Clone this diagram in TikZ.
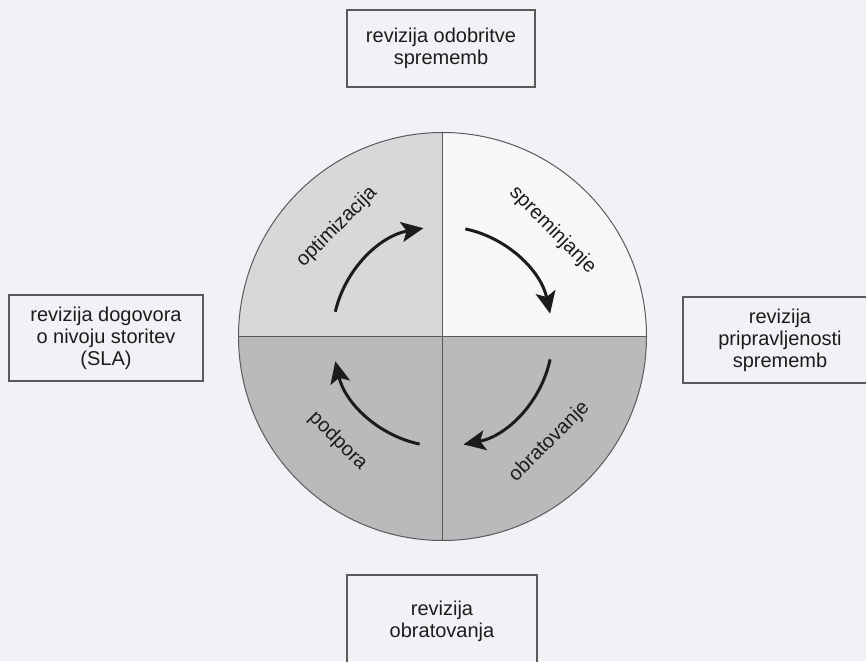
\documentclass[tikz,border=0pt]{standalone}
\usepackage{fontspec}
\setmainfont{Liberation Sans}
\usetikzlibrary{arrows.meta,calc}
\definecolor{paper}{HTML}{F2F2F6}
\definecolor{quadTL}{HTML}{D8D8DB}
\definecolor{quadTR}{HTML}{F7F7F9}
\definecolor{quadB}{HTML}{BABABD}
\definecolor{frame}{HTML}{5A5A5A}
\definecolor{ink}{HTML}{1C1C1C}
\tikzset{
  reviewbox/.style={draw=frame, line width=1.4pt, align=center, inner sep=0pt,
    font=\fontsize{20}{22}\selectfont, text=ink},
  cyclearrow/.style={draw=ink, line width=3pt,
    -{Stealth[length=22pt, width=20pt, inset=5pt]}},
  phase/.style={font=\fontsize{20}{22}\selectfont, text=ink, inner sep=0pt},
}
\begin{document}
\begin{tikzpicture}[x=1pt, y=1pt]
  \useasboundingbox (0,0) rectangle (866,661);
  \fill[paper] (0,0) rectangle (866,661);

  % service-review boxes around the cycle
  \node[reviewbox, minimum width=188pt, minimum height=77pt] (top) at (441,612.5)
    {revizija odobritve\\sprememb};
  \node[reviewbox, minimum width=194pt, minimum height=86pt] (left) at (106,323)
    {revizija dogovora\\o nivoju storitev\\(SLA)};
  \node[reviewbox, minimum width=194pt, minimum height=86pt] (right) at (780,321)
    {revizija\\pripravljenosti\\sprememb};
  \node[reviewbox, minimum width=190pt, minimum height=92pt] (bottom) at (442,40)
    {revizija\\obratovanja};

  % the four-phase wheel
  \coordinate (C) at (442.5,324.5);
  \def\R{204}
  \fill[quadTL] (C) -- ++(180:\R) arc[start angle=180, end angle=90, radius=\R] -- cycle;
  \fill[quadTR] (C) -- ++(90:\R) arc[start angle=90, end angle=0, radius=\R] -- cycle;
  \fill[quadB] (C) -- ++(0:\R) arc[start angle=0, end angle=-180, radius=\R] -- cycle;
  \node[draw=frame, line width=1pt, circle, minimum size=408pt, inner sep=0pt] (wheel) at (C) {};
  \draw[frame, line width=0.9pt] (wheel.west) -- (wheel.east);
  \draw[frame, line width=0.9pt] (wheel.north) -- (wheel.south);

  % cycle arrows
  \draw[cyclearrow] (C) ++(167:110) arc[start angle=167, end angle=100, radius=110];
  \draw[cyclearrow] (C) ++(78:110) arc[start angle=78, end angle=12, radius=110];
  \draw[cyclearrow] (C) ++(-12:110) arc[start angle=-12, end angle=-79, radius=110];
  \draw[cyclearrow] (C) ++(258:110) arc[start angle=258, end angle=193, radius=110];

  % phase labels
  \node[phase, rotate=45]  (opt) at ($(C)+(134:152)$) {optimizacija};
  \node[phase, rotate=-45] (spr) at ($(C)+(44:153)$) {spreminjanje};
  \node[phase, rotate=45]  (obr) at ($(C)+(-44.5:150)$) {obratovanje};
  \node[phase, rotate=-45] (pod) at ($(C)+(225:148)$) {podpora};
\end{tikzpicture}
\end{document}
